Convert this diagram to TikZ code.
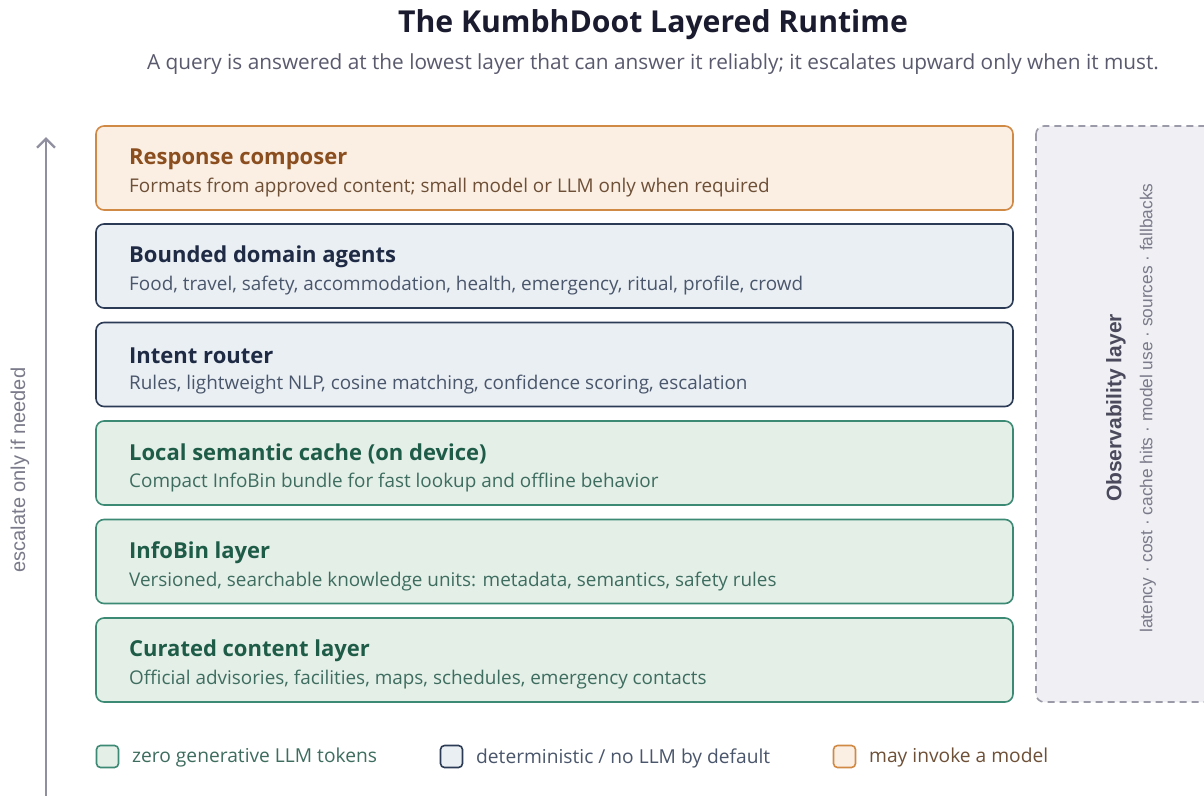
\documentclass[tikz,border=0pt]{standalone}
\usepackage{fontspec}
\setmainfont{Open Sans}
\newfontfamily\obsfont{Liberation Sans}
\usetikzlibrary{arrows.meta}

\definecolor{titleink}{HTML}{1B1B2F}
\definecolor{subink}{HTML}{5A5A6E}
\definecolor{orfill}{HTML}{FBEFE4}
\definecolor{ordraw}{HTML}{D08A45}
\definecolor{orhead}{HTML}{8B4E1E}
\definecolor{ortext}{HTML}{6E5037}
\definecolor{blfill}{HTML}{EAEFF4}
\definecolor{bldraw}{HTML}{2C3B55}
\definecolor{blhead}{HTML}{1F2A44}
\definecolor{bltext}{HTML}{4A566B}
\definecolor{grfill}{HTML}{E4EFE8}
\definecolor{grdraw}{HTML}{3C8A74}
\definecolor{grhead}{HTML}{1E5C48}
\definecolor{grtext}{HTML}{3E6D5F}
\definecolor{obsfill}{HTML}{EFEFF4}
\definecolor{obsdraw}{HTML}{9A9AA8}
\definecolor{obshead}{HTML}{4A4A5C}
\definecolor{obstext}{HTML}{7A7A8A}
\definecolor{arrowink}{HTML}{8F8FA0}

\tikzset{
  layerbox/.style={draw, line width=1.6pt, rounded corners=8pt,
    minimum width=917pt, minimum height=84pt, inner sep=0pt},
  orange/.style={layerbox, fill=orfill, draw=ordraw},
  slate/.style={layerbox, fill=blfill, draw=bldraw},
  green/.style={layerbox, fill=grfill, draw=grdraw},
  headtxt/.style={anchor=west, inner sep=0pt, font=\fontsize{22}{26}\selectfont\bfseries},
  desctxt/.style={anchor=west, inner sep=0pt, font=\fontsize{18.9}{22}\selectfont},
  swatch/.style={draw, line width=1.6pt, rounded corners=4pt,
    minimum width=22pt, minimum height=22pt, inner sep=0pt},
  legtxt/.style={anchor=west, inner sep=0pt, font=\fontsize{19.2}{23}\selectfont},
}

\begin{document}
\begin{tikzpicture}[x=1pt, y=-1pt]
\useasboundingbox (0,0) rectangle (1204,795);
\fill[white] (0,0) rectangle (1204,795);

% title and subtitle
\node[inner sep=0pt, text=titleink, font=\fontsize{30.2}{35}\selectfont\bfseries] (title) at (653,25) {The KumbhDoot Layered Runtime};
\node[inner sep=0pt, text=subink, font=\fontsize{20.8}{24}\selectfont] (subtitle) at (653,64) {A query is answered at the lowest layer that can answer it reliably; it escalates upward only when it must.};

% escalation arrow
\coordinate (arrbase) at (46,800);
\coordinate (arrtip) at (46,137);
\draw[arrowink, line width=2.4pt, -{Straight Barb[length=9pt, width=18pt, line width=2.4pt]}] (arrbase) -- (arrtip);
\node[rotate=90, inner sep=0pt, text=obstext, font=\obsfont\fontsize{20}{23}\selectfont] (esclabel) at (20,470) {escalate only if needed};

% layers, top to bottom
\node[orange] (L6) at (554.5,168) {};
\node[slate]  (L5) at (554.5,266) {};
\node[slate]  (L4) at (554.5,364.5) {};
\node[green]  (L3) at (554.5,463) {};
\node[green]  (L2) at (554.5,561.5) {};
\node[green]  (L1) at (554.5,660) {};

\node[headtxt, text=orhead] (L6h) at (129,159) {Response composer};
\node[desctxt, text=ortext] (L6d) at (129,188) {Formats from approved content; small model or LLM only when required};

\node[headtxt, text=blhead] (L5h) at (129,257) {Bounded domain agents};
\node[desctxt, text=bltext] (L5d) at (129,286) {Food, travel, safety, accommodation, health, emergency, ritual, profile, crowd};

\node[headtxt, text=blhead] (L4h) at (129,355.5) {Intent router};
\node[desctxt, text=bltext] (L4d) at (129,384.5) {Rules, lightweight NLP, cosine matching, confidence scoring, escalation};

\node[headtxt, text=grhead] (L3h) at (129,454) {Local semantic cache (on device)};
\node[desctxt, text=grtext] (L3d) at (129,483) {Compact InfoBin bundle for fast lookup and offline behavior};

\node[headtxt, text=grhead] (L2h) at (129,552.5) {InfoBin layer};
\node[desctxt, text=grtext] (L2d) at (129,581.5) {Versioned, searchable knowledge units: metadata, semantics, safety rules};

\node[headtxt, text=grhead] (L1h) at (129,651) {Curated content layer};
\node[desctxt, text=grtext] (L1d) at (129,680) {Official advisories, facilities, maps, schedules, emergency contacts};

% observability side panel
\draw[obsdraw, fill=obsfill, line width=1.6pt, dash pattern=on 7pt off 5pt, rounded corners=8pt]
  (1036,126) rectangle (1220,702);
\node[rotate=90, inner sep=0pt, text=obshead, font=\obsfont\fontsize{21}{24}\selectfont\bfseries] (obsh) at (1116,408) {Observability layer};
\node[rotate=90, inner sep=0pt, text=obstext, font=\obsfont\fontsize{17.3}{20}\selectfont] (obsd) at (1148,408) {latency · cost · cache hits · model use · sources · fallbacks};

% legend
\node[swatch, fill=grfill, draw=grdraw] (k1) at (107.5,756.5) {};
\node[legtxt, text=grtext] (k1t) at (132,758) {zero generative LLM tokens};
\node[swatch, fill=blfill, draw=bldraw] (k2) at (451.5,756.5) {};
\node[legtxt, text=bltext] (k2t) at (476,758) {deterministic / no LLM by default};
\node[swatch, fill=orfill, draw=ordraw] (k3) at (844.5,756.5) {};
\node[legtxt, text=ortext] (k3t) at (869,758) {may invoke a model};
\end{tikzpicture}
\end{document}
